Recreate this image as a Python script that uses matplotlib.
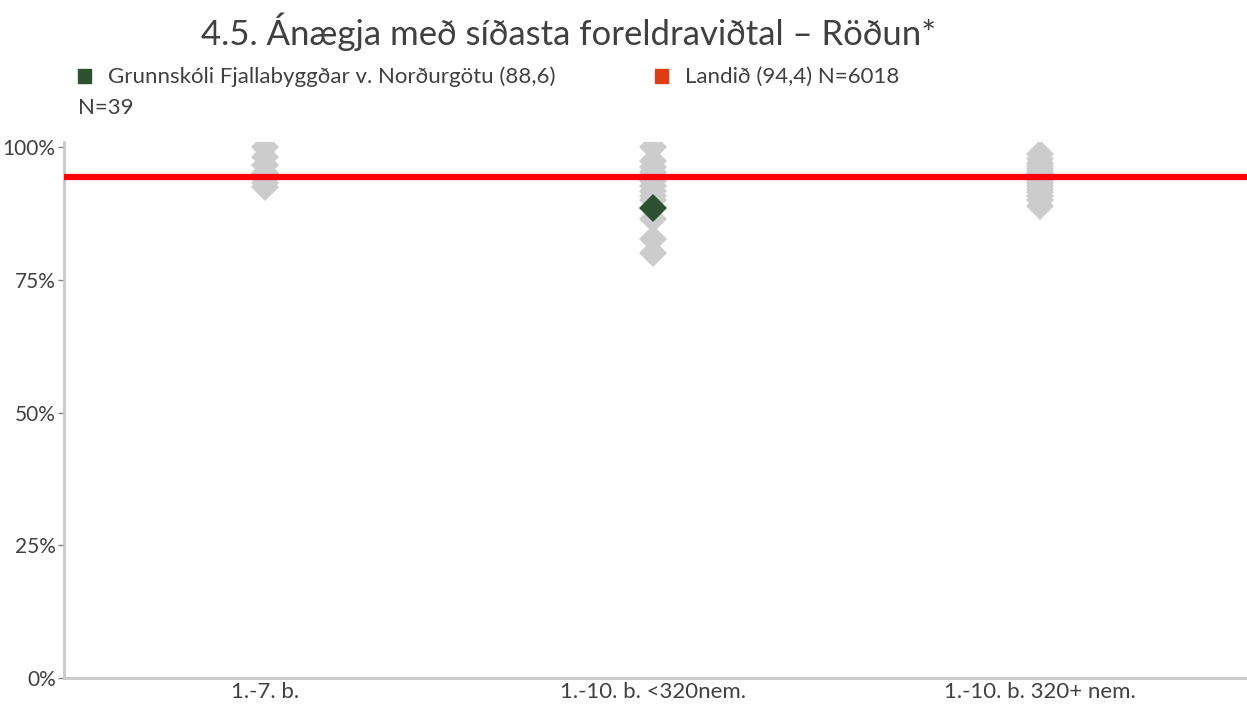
import matplotlib
matplotlib.use("Agg")
import matplotlib.pyplot as plt

plt.rcParams["font.family"] = ["Lato", "DejaVu Sans"]

# 数据
categories = ["1.-7. b.", "1.-10. b. <320nem.", "1.-10. b. 320+ nem."]
school_values = {
    0: [100.0, 98.1, 96.6, 95.2, 94.0, 93.3, 92.5],
    1: [100.0, 97.4, 96.2, 95.3, 94.5, 93.6, 92.7, 91.8, 90.8, 90.0, 86.5, 82.8, 80.0],
    2: [98.7, 97.8, 97.0, 96.5, 96.0, 95.4, 95.0, 94.6, 94.2, 93.8, 93.3, 92.7,
        92.2, 91.5, 90.8, 90.0, 89.0],
}
highlight_cat = 1
highlight_value = 88.6
national_value = 94.4
yticks = [0, 25, 50, 75, 100]

grey = "#CCCCCC"
green = "#2E5132"
red = "#FF0000"
text_col = "#404040"

fig = plt.figure(figsize=(12.47, 7.08), dpi=100)
ax = fig.add_axes([0.0513, 0.0424, 0.9487, 0.757])

for cat, vals in school_values.items():
    ax.plot([cat] * len(vals), vals, linestyle="none", marker="D",
            markersize=14, color=grey, markeredgewidth=0, zorder=2)

ax.axhline(national_value, color=red, linewidth=4.5, zorder=3)
ax.plot([highlight_cat], [highlight_value], linestyle="none", marker="D",
        markersize=14, color=green, markeredgewidth=0, zorder=4)

ax.set_xlim(-0.519, 2.534)
ax.set_ylim(0, 101)
ax.set_yticks(yticks)
ax.set_yticklabels([f"{v}%" for v in yticks])
ax.set_xticks(range(len(categories)))
ax.set_xticklabels(categories)
ax.tick_params(axis="x", length=0, labelsize=16, labelcolor=text_col, pad=3)
ax.tick_params(axis="y", length=4, width=1, color="#808080", labelsize=15,
               labelcolor=text_col, pad=2)

for side in ["top", "right"]:
    ax.spines[side].set_visible(False)
for side in ["left", "bottom"]:
    ax.spines[side].set_color("#C8C8C8")
    ax.spines[side].set_linewidth(2)

fig.text(0.456, 0.955, "4.5. Ánægja með síðasta foreldraviðtal – Röðun*",
         ha="center", va="center", fontsize=25, color="#404040")

# 图例
fig.patches.append(plt.Rectangle((0.0625, 0.883), 0.0105, 0.019,
                                 transform=fig.transFigure, color=green))
fig.text(0.087, 0.892, "Grunnskóli Fjallabyggðar v. Norðurgötu (88,6)",
         ha="left", va="center", fontsize=16, color=text_col)
fig.patches.append(plt.Rectangle((0.5255, 0.883), 0.0105, 0.019,
                                 transform=fig.transFigure, color="#E03C14"))
fig.text(0.549, 0.892, "Landið (94,4) N=6018",
         ha="left", va="center", fontsize=16, color=text_col)
fig.text(0.0625, 0.847, "N=39", ha="left", va="center", fontsize=16,
         color=text_col)

fig.savefig("out.png", dpi=100)
